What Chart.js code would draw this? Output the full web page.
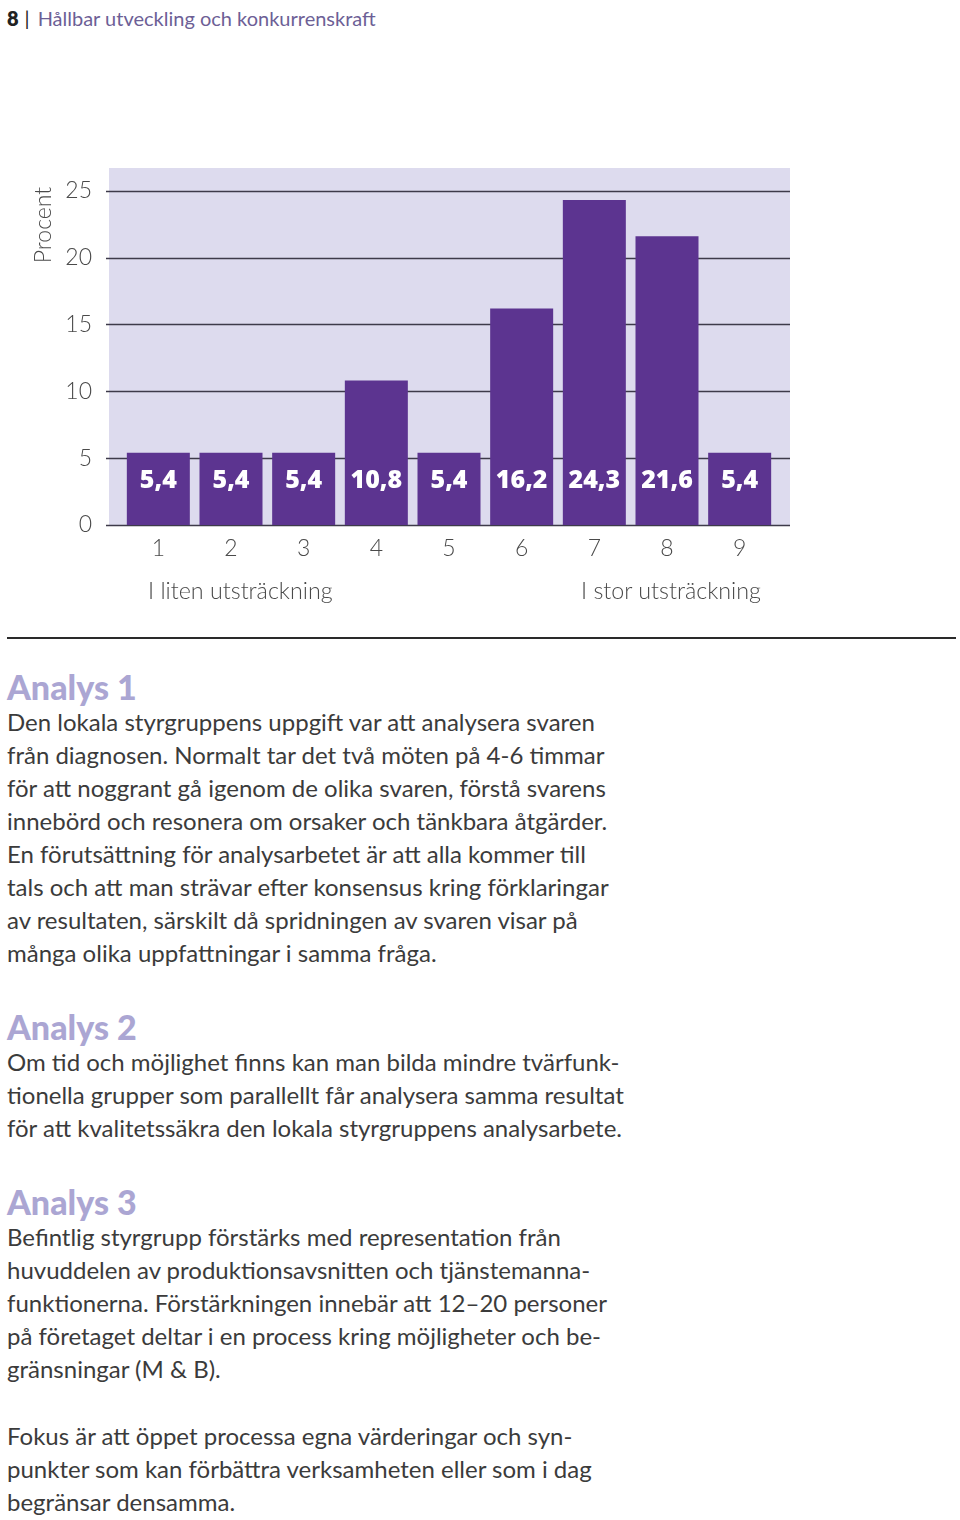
<!DOCTYPE html>
<html lang="sv">
<head>
<meta charset="utf-8">
<title>Hållbar utveckling och konkurrenskraft</title>
<script src="https://cdn.jsdelivr.net/npm/chart.js@4"></script>
<style>
  html, body { margin: 0; padding: 0; background: #fff; }
  body { width: 960px; height: 1520px; position: relative; font-family: Lato, "Open Sans", sans-serif; color: #3b3b3b; }
  #wrap { position: absolute; left: 0; top: 0; width: 960px; height: 640px; }
  .head { position: absolute; left: 7px; top: 6px; font-size: 20px; line-height: 24px; color: #6d5f96; white-space: nowrap; }
  .head b { color: #222; font-weight: 800; }
  .head .bar { color: #222; margin: 0 8px 0 6px; }
  .note { position: absolute; top: 576px; font-size: 23.3px; line-height: 28px; color: #4a4a4a; white-space: nowrap; font-weight: 300; }
  .rule { position: absolute; left: 7px; top: 637px; width: 949px; height: 2px; background: #2a2a2a; }
  .h { position: absolute; left: 7px; font-size: 34px; line-height: 33px; font-weight: 900; color: #aba6d3; white-space: nowrap; }
  .p { position: absolute; left: 7px; font-size: 24px; line-height: 33px; white-space: nowrap; color: #3b3b3b; }
</style>
</head>
<body>
<div class="head"><b>8</b><span class="bar">|</span>Hållbar utveckling och konkurrenskraft</div>
<div id="wrap"><canvas id="procent-chart" width="960" height="640"></canvas></div>
<div class="note" style="left:148px">I liten utsträckning</div>
<div class="note" style="left:581px">I stor utsträckning</div>
<div class="rule"></div>

<div class="h" style="top:670px">Analys 1</div>
<div class="p" style="top:705px">Den lokala styrgruppens uppgift var att analysera svaren<br>från diagnosen. Normalt tar det två möten på 4-6 timmar<br>för att noggrant gå igenom de olika svaren, förstå svarens<br>innebörd och resonera om orsaker och tänkbara åtgärder.<br>En förutsättning för analysarbetet är att alla kommer till<br>tals och att man strävar efter konsensus kring förklaringar<br>av resultaten, särskilt då spridningen av svaren visar på<br>många olika uppfattningar i samma fråga.</div>

<div class="h" style="top:1010px">Analys 2</div>
<div class="p" style="top:1045px">Om tid och möjlighet finns kan man bilda mindre tvärfunk-<br>tionella grupper som parallellt får analysera samma resultat<br>för att kvalitetssäkra den lokala styrgruppens analysarbete.</div>

<div class="h" style="top:1185px">Analys 3</div>
<div class="p" style="top:1220px">Befintlig styrgrupp förstärks med representation från<br>huvuddelen av produktionsavsnitten och tjänstemanna-<br>funktionerna. Förstärkningen innebär att 12–20 personer<br>på företaget deltar i en process kring möjligheter och be-<br>gränsningar (M &amp; B).</div>

<div class="p" style="top:1419px">Fokus är att öppet processa egna värderingar och syn-<br>punkter som kan förbättra verksamheten eller som i dag<br>begränsar densamma.</div>

<script>
// Skala 1-9, andel svar i procent
const skala = ["1", "2", "3", "4", "5", "6", "7", "8", "9"];
const procent = [5.4, 5.4, 5.4, 10.8, 5.4, 16.2, 24.3, 21.6, 5.4];
const yTicks = [0, 5, 10, 15, 20, 25];

const lila = "#5c3490";
const bakgrund = "#dddbee";

// Bakgrund + stödlinjer (lite bredare än själva stapelytan)
const bakgrundPlugin = {
  id: "bakgrund",
  beforeDatasetsDraw(chart) {
    const { ctx, chartArea, scales } = chart;
    const left = chartArea.left - 13;
    const right = chartArea.right + 14;
    ctx.save();
    ctx.fillStyle = bakgrund;
    ctx.fillRect(left, chartArea.top, right - left, chartArea.bottom - chartArea.top);
    ctx.strokeStyle = "#3d3a4a";
    ctx.lineWidth = 1.5;
    yTicks.forEach((v) => {
      const y = Math.round(scales.y.getPixelForValue(v)) + 0.5;
      ctx.beginPath();
      ctx.moveTo(left - 3, y);
      ctx.lineTo(right, y);
      ctx.stroke();
    });
    ctx.restore();
  },
  afterDatasetsDraw(chart) {
    const { ctx, scales } = chart;
    const meta = chart.getDatasetMeta(0);
    ctx.save();
    ctx.fillStyle = "#fff";
    ctx.font = "800 25px 'Open Sans', sans-serif";
    ctx.textAlign = "center";
    ctx.textBaseline = "middle";
    const y = scales.y.getPixelForValue(0) - 44;
    meta.data.forEach((bar, i) => {
      ctx.fillText(String(procent[i]).replace(".", ","), bar.x, y);
    });
    // axeltitel
    ctx.fillStyle = "#4a4a4a";
    ctx.font = "300 23px Lato, sans-serif";
    ctx.translate(44, 225);
    ctx.rotate(-Math.PI / 2);
    ctx.fillText("Procent", 0, 0);
    ctx.restore();
  },
};

const grafik = new Chart(document.getElementById("procent-chart"), {
  type: "bar",
  data: {
    labels: skala,
    datasets: [
      {
        label: "Procent",
        data: procent,
        backgroundColor: lila,
        borderWidth: 0,
        barPercentage: 0.867,
        categoryPercentage: 1,
      },
    ],
  },
  options: {
    responsive: false,
    animation: false,
    layout: { padding: { top: 168, right: 184, bottom: 0, left: 0 } },
    plugins: {
      legend: { display: false },
      tooltip: { enabled: false },
    },
    scales: {
      x: {
        grid: { display: false },
        border: { display: false },
        ticks: {
          color: "#4a4a4a",
          padding: 2,
          font: { family: "Lato", size: 23, weight: 300 },
        },
        afterFit: (s) => { s.height = 115; },
      },
      y: {
        min: 0,
        max: 26.7,
        grid: { display: false },
        border: { display: false },
        ticks: {
          stepSize: 5,
          color: "#4a4a4a",
          padding: 22,
          font: { family: "Lato", size: 23, weight: 300 },
        },
        afterBuildTicks: (s) => {
          s.ticks = yTicks.map((v) => ({ value: v }));
        },
        afterFit: (s) => { s.width = 122; },
      },
    },
  },
  plugins: [bakgrundPlugin],
});
</script>
</body>
</html>
